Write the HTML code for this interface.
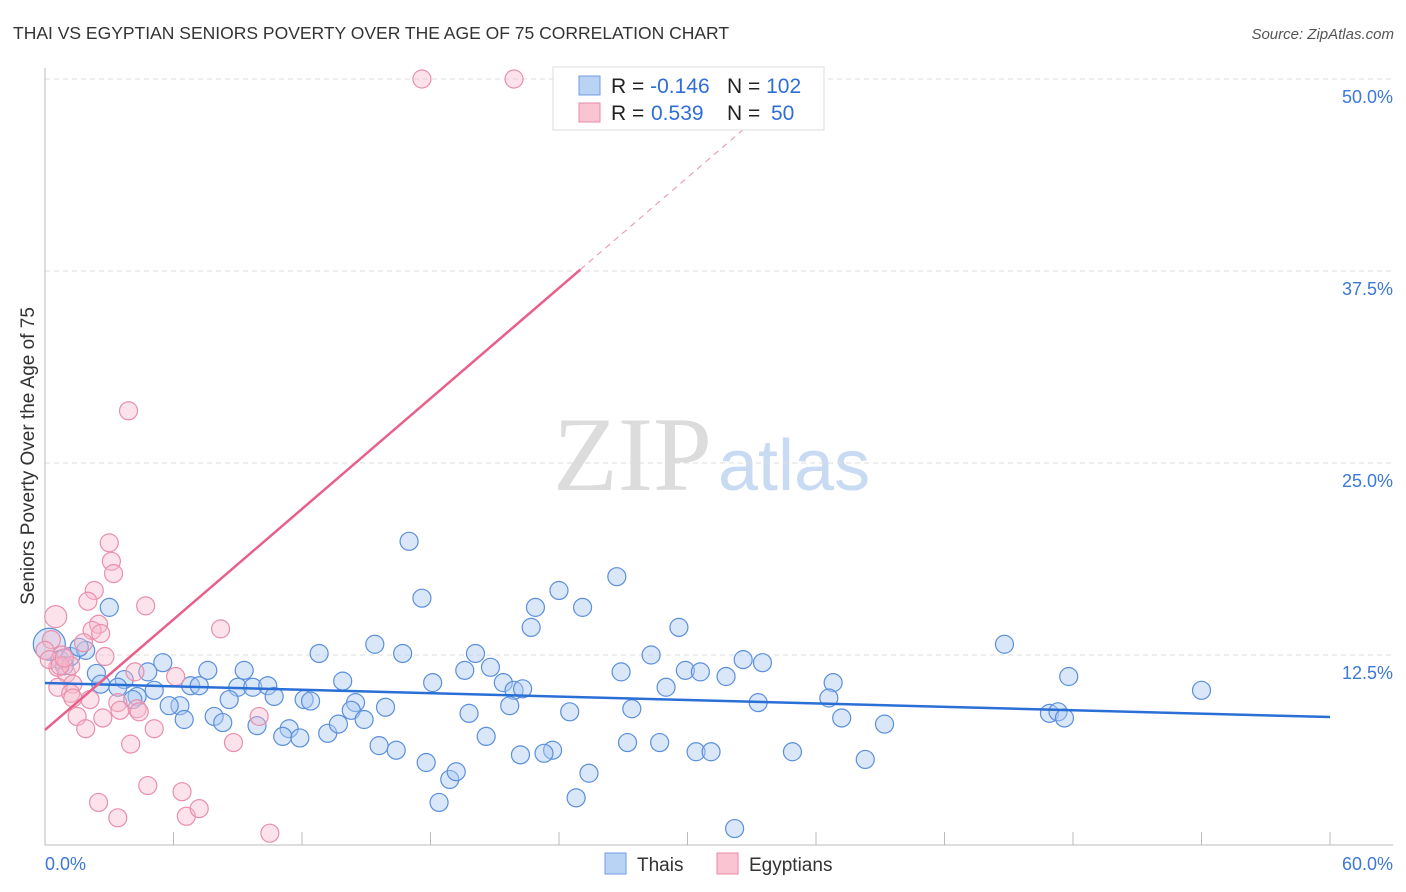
<!DOCTYPE html>
<html><head><meta charset="utf-8"><style>
body{margin:0;background:#fff;font-family:"Liberation Sans",sans-serif}
svg{display:block}
</style></head><body>
<svg id="c" width="1406" height="892">
<text x="13" y="39" font-size="17.5" fill="#333">THAI VS EGYPTIAN SENIORS POVERTY OVER THE AGE OF 75 CORRELATION CHART</text>
<text x="1394" y="39" font-size="15" fill="#555" font-style="italic" text-anchor="end">Source: ZipAtlas.com</text>
<g>
<text x="553" y="490" font-size="106" font-family="Liberation Serif,serif" fill="#dcdcdc">ZIP</text>
<text x="718" y="490" font-size="72" fill="#c9daf3">atlas</text>
</g>
<g id="grid"></g>
<g id="pts"></g>
<g id="lines"></g>
<text transform="translate(34,456) rotate(-90)" font-size="19" fill="#333" text-anchor="middle">Seniors Poverty Over the Age of 75</text>
<g>
<rect x="553" y="67" width="271" height="63" fill="#fff" stroke="#ddd"/>
<rect x="579" y="76" width="21" height="19" fill="#b9d3f5" stroke="#6f9de0"/>
<rect x="579" y="103" width="21" height="19" fill="#fac4d3" stroke="#e88aa7"/>
<text x="611" y="93" font-size="21" fill="#222">R = <tspan fill="#2f6ed6">-0.146</tspan></text>
<text x="727" y="93" font-size="21" fill="#222">N = <tspan fill="#2f6ed6">102</tspan></text>
<text x="611" y="120" font-size="21" fill="#222">R = <tspan fill="#2f6ed6" x="651">0.539</tspan></text>
<text x="727" y="120" font-size="21" fill="#222">N = <tspan fill="#2f6ed6" x="771">50</tspan></text>
</g>
<g>
<rect x="605" y="853" width="21" height="21" fill="#b9d3f5" stroke="#6f9de0"/>
<text x="637" y="871" font-size="19" fill="#333">Thais</text>
<rect x="717" y="853" width="21" height="21" fill="#fac4d3" stroke="#e88aa7"/>
<text x="749" y="871" font-size="19" fill="#333">Egyptians</text>
</g>
</svg>
<script>
const yTicks=[12.5,25,37.5,50];
const yTickLabels=["12.5%","25.0%","37.5%","50.0%"];
const xTickLabels=["0.0%","60.0%"];
const thaiX=[3.0,17.0,17.6,24.0,26.7,22.9,25.1,22.7,29.6,15.4,16.7,12.8,20.1,28.3,32.6,33.5,44.8,47.8,54.0,19.6,20.8,26.9,29.9,30.6,31.8,5.5,4.8,7.6,9.3,2.4,3.7,2.6,3.4,6.8,7.2,9.0,9.7,10.4,5.1,4.3,4.1,13.9,18.1,21.4,21.9,22.3,29.0,36.8,36.6,33.3,10.7,12.1,12.4,14.5,15.9,6.3,5.8,8.6,7.9,8.3,6.5,9.9,11.4,11.1,11.9,13.2,13.7,14.3,14.9,19.8,21.7,24.5,27.4,37.2,39.2,46.9,47.3,47.6,20.6,15.6,16.4,22.2,23.7,23.3,27.2,28.7,30.4,31.1,34.9,38.3,17.8,18.9,19.2,25.4,18.4,24.8,32.2,0.2,0.7,1.2,1.9,1.6,0.9];
const thaiY=[15.6,19.9,16.2,16.7,17.6,15.6,15.6,14.3,14.3,13.2,12.6,12.6,12.6,12.5,12.2,12.0,13.2,11.1,10.2,11.5,11.7,11.4,11.5,11.4,11.1,12.0,11.4,11.5,11.5,11.3,10.9,10.6,10.4,10.5,10.5,10.4,10.4,10.5,10.2,9.8,9.6,10.8,10.7,10.7,10.2,10.3,10.4,10.7,9.7,9.4,9.8,9.6,9.5,9.4,9.1,9.2,9.2,9.6,8.5,8.1,8.3,7.9,7.7,7.2,7.1,7.4,8.0,8.9,8.3,8.7,9.2,8.8,9.0,8.4,8.0,8.7,8.8,8.4,7.2,6.6,6.3,6.0,6.3,6.1,6.8,6.8,6.2,6.2,6.2,5.7,5.5,4.4,4.9,4.8,2.9,3.2,1.2,13.2,12.2,12.4,12.8,13.0,11.8];
const egyX=[17.6,21.9,3.9,3.0,3.1,3.2,2.3,2.0,4.7,0.5,8.2,2.5,2.2,2.6,1.8,2.8,0.3,0.8,0.6,1.0,1.2,4.2,6.1,1.3,0.6,1.2,1.3,2.1,3.4,4.3,4.4,3.5,1.5,2.7,5.1,1.9,4.0,8.8,10.0,4.8,6.4,2.5,3.4,6.6,7.2,10.5,0.0,0.2,0.7,0.9];
const egyY=[50.0,50.0,28.4,19.8,18.6,17.8,16.7,16.0,15.7,15.0,14.2,14.5,14.1,13.9,13.3,12.4,13.5,12.5,11.7,11.3,11.8,11.4,11.1,10.6,10.4,10.0,9.7,9.6,9.4,9.0,8.8,8.9,8.5,8.4,7.7,7.7,6.7,6.8,8.5,4.0,3.6,2.9,1.9,2.0,2.5,0.9,12.8,12.2,11.8,12.3];
const thaiTrend=[10.68,8.46];
const egyTrend=[7.62,1.199];

const NS="http://www.w3.org/2000/svg";
const sx=v=>45+v/60*1285;
const sy=v=>847-v/12.5*192;
function mk(tag,attrs,parent){const e=document.createElementNS(NS,tag);for(const k in attrs)e.setAttribute(k,attrs[k]);parent.appendChild(e);return e;}
const grid=document.getElementById('grid');
yTicks.forEach((t,i)=>{
 const l=mk('line',{x1:45,x2:1393,y1:sy(t),y2:sy(t),stroke:'#ddd','stroke-dasharray':'5,4'},grid);
 
 
 const tx=mk('text',{x:1393,y:sy(t)+24,'font-size':18,fill:'#3b78d8','text-anchor':'end'},grid);
 tx.textContent=yTickLabels[i];
 
 
});
const ax=mk('line',{x1:45,x2:45,y1:68,y2:845,stroke:'#bbb'},grid);


const bx=mk('line',{x1:45,x2:1393,y1:845,y2:845,stroke:'#bbb'},grid);


for(let i=1;i<=10;i++){
 const t=mk('line',{x1:sx(i*6),x2:sx(i*6),y1:832,y2:845,stroke:'#bbb'},grid);
 
 
}
const xl0=mk('text',{x:45,y:870,'font-size':18,fill:'#3b78d8'},grid);xl0.textContent=xTickLabels[0];


const xl1=mk('text',{x:1393,y:870,'font-size':18,fill:'#3b78d8','text-anchor':'end'},grid);xl1.textContent=xTickLabels[1];



const pts=document.getElementById('pts');
thaiX.forEach((x,i)=>{
 const c=mk('circle',{cx:sx(x),cy:sy(thaiY[i]),r:i===97?16:9,fill:'rgba(170,202,242,0.45)',stroke:'#5b8fdc','stroke-width':1.2},pts);
 
 
});
egyX.forEach((x,i)=>{
 const c=mk('circle',{cx:sx(x),cy:sy(egyY[i]),r:i===9?11:9,fill:'rgba(248,185,205,0.4)',stroke:'#e98fab','stroke-width':1.2},pts);
 
 
});
const ln=document.getElementById('lines');
const tl=mk('line',{x1:sx(0),y1:sy(thaiTrend[0]),x2:sx(60),y2:sy(thaiTrend[1]),stroke:'#2a6fd6','stroke-width':2.5},ln);


const ef=x=>egyTrend[0]+egyTrend[1]*x;
const el=mk('line',{x1:sx(0),y1:sy(ef(0)),x2:sx(25),y2:sy(ef(25)),stroke:'#e8608a','stroke-width':2.5},ln);


const ed=mk('line',{x1:sx(25),y1:sy(ef(25)),x2:sx(33),y2:sy(ef(33)),stroke:'#eaa0b8','stroke-width':1.2,'stroke-dasharray':'6,5'},ln);


</script>
</body></html>
